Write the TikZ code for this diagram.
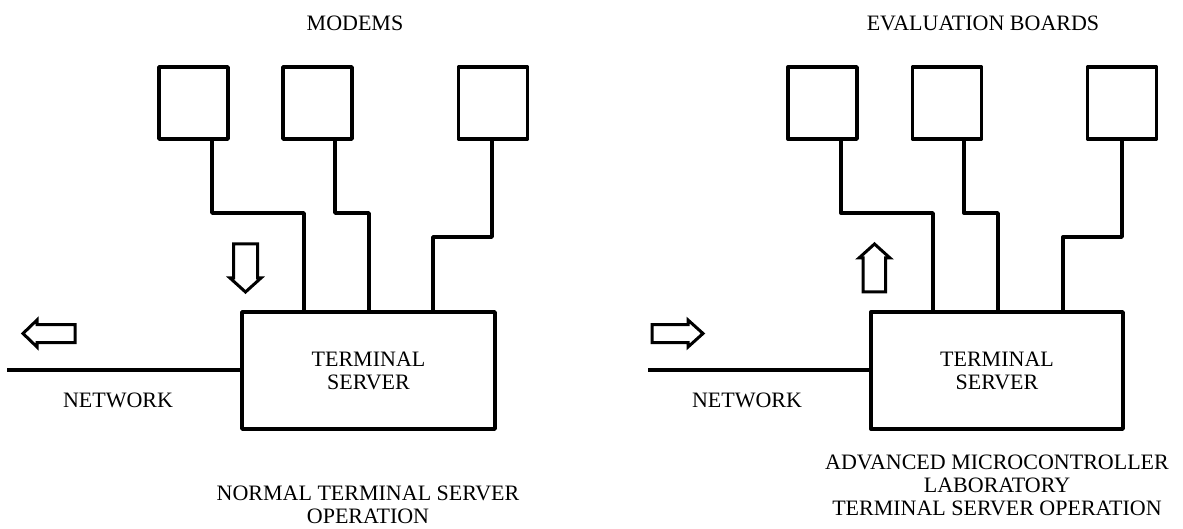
\documentclass[tikz,border=0pt]{standalone}
\usepackage{fontspec}
\setmainfont{Liberation Serif}
\begin{document}
\begin{tikzpicture}[x=1pt,y=-1pt,
  every node/.style={font=\fontsize{22}{23}\selectfont, inner sep=0pt},
  unit/.style={draw, line width=3.4pt, line join=round, minimum width=69pt, minimum height=72pt},
  server/.style={draw, line width=3.4pt, line join=round, minimum height=117pt, align=center},
  wire/.style={line width=3.4pt, line join=round},
  hollow/.style={draw, line width=3pt, line join=miter, fill=white},
  caption/.style={align=center}]
\useasboundingbox (0,0) rectangle (1183,529);

% ---------- left: modems on a terminal server ----------
\node[caption] (tmod) at (355,23) {MODEMS};
\node[unit] (m1) at (193.5,103) {};
\node[unit] (m2) at (317.5,103) {};
\node[unit] (m3) at (493,103) {};
\node[server, minimum width=253pt] (srvA) at (368.5,370.5) {TERMINAL\\SERVER};

\coordinate (a1) at (304,213);
\coordinate (a2) at (369,213);
\coordinate (a3) at (433,237);
\draw[wire] ([xshift=18.5pt]m1.south) |- (a1) -- (a1 |- srvA.north);
\draw[wire] ([xshift=17.5pt]m2.south) |- (a2) -- (a2 |- srvA.north);
\draw[wire] ([xshift=-1pt]m3.south) |- (a3) -- (a3 |- srvA.north);

\coordinate (netA) at (7,370);
\draw[wire] (netA) -- (netA -| srvA.west);
\node (nwA) at (118,400) {NETWORK};

% outgoing to network, incoming from modems
\draw[hollow] (23,333.5) -- (37,320) -- (37,324.5) -- (75,324.5) -- (75,342.5)
  -- (37,342.5) -- (37,347) -- cycle;
\draw[hollow] (245.5,292) -- (230,278) -- (233.5,278) -- (233.5,244) -- (257.5,244)
  -- (257.5,278) -- (261,278) -- cycle;

\node[caption] (capA) at (368,504.5) {NORMAL TERMINAL SERVER\\OPERATION};

% ---------- right: evaluation boards on a terminal server ----------
\node[caption] (teval) at (983,23) {EVALUATION BOARDS};
\node[unit] (b1) at (822.5,103) {};
\node[unit] (b2) at (947,103) {};
\node[unit] (b3) at (1122,103) {};
\node[server, minimum width=252pt] (srvB) at (997,370.5) {TERMINAL\\SERVER};

\coordinate (c1) at (933,213);
\coordinate (c2) at (998,213);
\coordinate (c3) at (1063,237);
\draw[wire] ([xshift=18.5pt]b1.south) |- (c1) -- (c1 |- srvB.north);
\draw[wire] ([xshift=17pt]b2.south) |- (c2) -- (c2 |- srvB.north);
\draw[wire] (b3.south) |- (c3) -- (c3 |- srvB.north);

\coordinate (netB) at (648,370);
\draw[wire] (netB) -- (netB -| srvB.west);
\node (nwB) at (747,400) {NETWORK};

% incoming from network, outgoing to boards
\draw[hollow] (703,333.5) -- (688,320) -- (688,324.5) -- (652,324.5) -- (652,342.5)
  -- (688,342.5) -- (688,347) -- cycle;
\draw[hollow] (874.5,244) -- (859,258) -- (863,258) -- (863,292) -- (885.5,292)
  -- (885.5,258) -- (890,258) -- cycle;

\node[caption] (capB) at (997,485) {ADVANCED MICROCONTROLLER\\LABORATORY\\TERMINAL SERVER OPERATION};
\end{tikzpicture}
\end{document}
